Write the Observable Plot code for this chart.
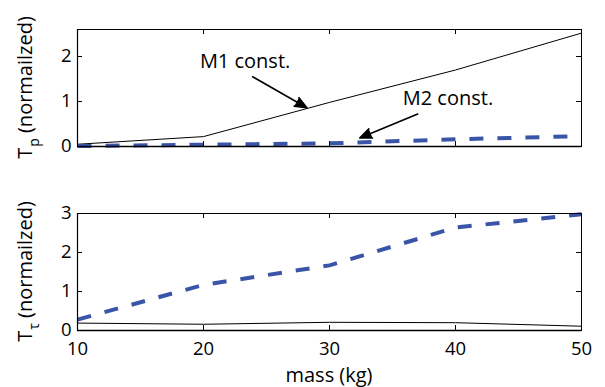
<!DOCTYPE html>
<html><head><meta charset="utf-8">
<script src="https://cdn.jsdelivr.net/npm/d3@7"></script>
<script src="https://cdn.jsdelivr.net/npm/@observablehq/plot@0.6"></script>
<style>
html,body{margin:0;padding:0;background:#fff;}
#chart{width:605px;height:387px;}
#chart svg{display:block;}
</style>
</head><body><div id="chart"></div>
<script>
// ---- data ----
const mass = [10, 20, 30, 40, 50];
const tpM1 = [0.05, 0.22, 0.98, 1.70, 2.52];   // top panel, solid (M1 const.)
const tpM2 = [0.01, 0.04, 0.07, 0.16, 0.23];   // top panel, dashed (M2 const.)
const ttM1 = [0.19, 0.16, 0.21, 0.20, 0.11];   // bottom panel, solid
const ttM2 = [0.28, 1.17, 1.67, 2.64, 2.98];   // bottom panel, dashed
const xTicks = [10, 20, 30, 40, 50];
const tpTicks = [0, 1, 2];
const ttTicks = [0, 1, 2, 3];
const annoLabels = ["M1 const.", "M2 const."];
const annoText = [[23.3, 1.88], [39.4, 1.06]];
const annoArrow = [[23.9, 1.55, 28.2, 0.86], [37.0, 0.72, 32.4, 0.19]];
const xLabel = "mass (kg)";
const yLabelTop = ["T", "p", " (normailzed)"];
const yLabelBottom = ["T", "τ", " (normailzed)"];

// ---- layout ----
const W = 605, ML = 77, MR = 24;
const FONT = "'Open Sans', sans-serif";
const BLUE = "#3a55a8";
const TICK = 5;

function panel({height, marginTop, marginBottom, yDomain, yTicks, m1, m2, showXLabels, annos}) {
  const rows = mass.map((m, i) => ({mass: m, m1: m1[i], m2: m2[i]}));
  const h = height - marginTop - marginBottom;
  const w = W - ML - MR;
  const marks = [
    Plot.line(rows, {x: "mass", y: "m1", stroke: "black", strokeWidth: 1}),
    Plot.line(rows, {x: "mass", y: "m2", stroke: BLUE, strokeWidth: 4, strokeDasharray: "14,14", strokeLinecap: "butt"}),
    Plot.frame({stroke: "black", strokeWidth: 1}),
    Plot.ruleY([yDomain[0]], {stroke: "black", strokeWidth: 1.4}),
    Plot.ruleX([10], {stroke: "black", strokeWidth: 1.2}),
    // inward ticks
    Plot.tickX(xTicks, {x: d => d, insetTop: h - TICK, stroke: "black"}),
    Plot.tickX(xTicks, {x: d => d, insetBottom: h - TICK, stroke: "black"}),
    Plot.tickY(yTicks, {y: d => d, insetRight: w - TICK, stroke: "black"}),
    Plot.tickY(yTicks, {y: d => d, insetLeft: w - TICK, stroke: "black"}),
    Plot.axisY(yTicks, {anchor: "left", tickSize: 0, tickPadding: 6, label: null})
  ];
  if (showXLabels) marks.push(Plot.axisX(xTicks, {anchor: "bottom", tickSize: 0, tickPadding: 11, label: null}));
  if (annos) {
    const a = annoLabels.map((l, i) => ({label: l, tx: annoText[i][0], ty: annoText[i][1],
      x1: annoArrow[i][0], y1: annoArrow[i][1], x2: annoArrow[i][2], y2: annoArrow[i][3]}));
    marks.push(Plot.arrow(a, {x1: "x1", y1: "y1", x2: "x2", y2: "y2", stroke: "black", fill: "black",
      strokeWidth: 1.6, headLength: 12, headAngle: 45}));
    marks.push(Plot.text(a, {x: "tx", y: "ty", text: "label", fontSize: 20, textAnchor: "middle", fill: "black"}));
  }
  return Plot.plot({
    width: W, height, marginTop, marginBottom, marginLeft: ML, marginRight: MR,
    style: {fontFamily: FONT, fontSize: "18.5px", color: "black", background: "white", overflow: "visible"},
    x: {domain: [10, 50], axis: showXLabels ? undefined : null},
    y: {domain: yDomain},
    marks
  });
}

function addYLabel(svg, parts, cy) {
  const t = d3.select(svg).append("text")
    .attr("transform", `translate(32,${cy}) rotate(-90)`)
    .attr("text-anchor", "middle")
    .attr("font-family", FONT).attr("font-size", 20).attr("fill", "black");
  t.append("tspan").text(parts[0]);
  t.append("tspan").attr("dy", 7).attr("dx", 1).attr("font-size", 14).text(parts[1]);
  t.append("tspan").attr("dy", -7).text(parts[2]);
}

const topPanel = panel({height: 190, marginTop: 29, marginBottom: 44, yDomain: [0, 2.6], yTicks: tpTicks,
  m1: tpM1, m2: tpM2, showXLabels: false, annos: true});
const botPanel = panel({height: 197, marginTop: 23, marginBottom: 57, yDomain: [0, 3], yTicks: ttTicks,
  m1: ttM1, m2: ttM2, showXLabels: true, annos: false});
addYLabel(topPanel, yLabelTop, 29 + (190 - 29 - 44) / 2);
addYLabel(botPanel, yLabelBottom, 23 + (197 - 23 - 57) / 2);
d3.select(botPanel).append("text").attr("x", ML + (W - ML - MR) / 2).attr("y", 192)
  .attr("text-anchor", "middle").attr("font-family", FONT).attr("font-size", 20).attr("fill", "black")
  .text(xLabel);
const root = document.getElementById("chart");
root.appendChild(topPanel);
root.appendChild(botPanel);
</script>
</body></html>
